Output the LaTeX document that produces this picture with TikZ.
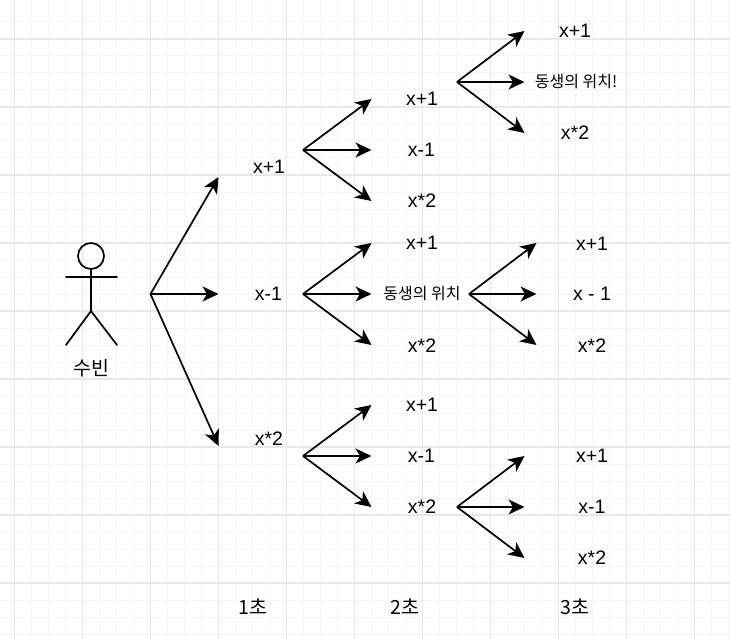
\documentclass[tikz,border=0pt]{standalone}
\usepackage{fontspec}
\setmainfont{Liberation Sans}
\newfontfamily\krfont{Noto Sans CJK KR}
\usetikzlibrary{arrows.meta}
\tikzset{
  lab/.style={inner sep=0pt,font=\fontsize{19.5}{21}\selectfont},
  krsmall/.style={inner sep=0pt,font=\krfont\fontsize{16}{18}\selectfont},
  krlab/.style={inner sep=0pt,font=\krfont\fontsize{19.5}{21}\selectfont},
  arr/.style={line width=1.7pt,-{Stealth[length=16pt,width=15pt,inset=4.5pt]}},
  actorline/.style={line width=1.7pt,line cap=round}
}
\begin{document}
\begin{tikzpicture}[x=1pt,y=-1pt]
\useasboundingbox (0,0) rectangle (730,639);
\fill[white] (0,0) rectangle (730,639);
\foreach \k in {-1,...,42}{
  \draw[line width=1pt,black!3.5] ({14.5+17*\k},0) -- ({14.5+17*\k},639);
  \draw[line width=1pt,black!3.5] (0,{39+17*\k}) -- (730,{39+17*\k});
}
\foreach \k in {0,...,10}{
  \draw[line width=1.2pt,black!9] ({14.5+68*\k},0) -- ({14.5+68*\k},639);
}
\foreach \k in {0,...,8}{
  \draw[line width=1.2pt,black!9] (0,{39+68*\k}) -- (730,{39+68*\k});
}
% actor
\node[draw,circle,line width=1.7pt,minimum size=26pt,inner sep=0pt] (head) at (91,256) {};
\coordinate (hip) at (91,311);
\coordinate (armL) at (66,277);
\coordinate (armR) at (117,277);
\coordinate (footL) at (66,345);
\coordinate (footR) at (117,345);
\draw[actorline] (head.south) -- (hip);
\draw[actorline] (armL) -- (armR);
\draw[actorline] (footL) -- (hip) -- (footR);
\node[krlab] (subin) at (91,368) {수빈};
% junctions
\coordinate (j0) at (150.5,294);
\coordinate (j1) at (303,150);
\coordinate (j2) at (303,294);
\coordinate (j3) at (303,456);
\coordinate (j4) at (457,82);
\coordinate (j5) at (469,294);
\coordinate (j6) at (457,507);
% arrow ends
\foreach \n/\x/\y in {a1/218.5/177,a2/218.5/294,a3/218.5/446,
  b1/371.5/99,b2/371.5/150,b3/371.5/201,
  c1/371.5/243,c2/371.5/294,c3/371.5/345,
  d1/371.5/405,d2/371.5/456,d3/371.5/507,
  e1/524.5/31,e2/524.5/82,e3/524.5/133,
  f1/536.5/243,f2/536.5/294,f3/536.5/345,
  g1/524.5/456,g2/524.5/507,g3/524.5/558}{
  \coordinate (\n) at (\x,\y);
}
\foreach \s/\t in {j0/a1,j0/a2,j0/a3,j1/b1,j1/b2,j1/b3,j2/c1,j2/c2,j2/c3,j3/d1,j3/d2,j3/d3,j4/e1,j4/e2,j4/e3,j5/f1,j5/f2,j5/f3,j6/g1,j6/g2,j6/g3}{
  \draw[arr] (\s) -- (\t);
}
% labels
\node[lab] (t1) at (269,166.5) {x+1};
\node[lab] (t2) at (268.5,293.5) {x-1};
\node[lab] (t3) at (269,438.5) {x*2};
\node[lab] (t4) at (422,98.5) {x+1};
\node[lab] (t5) at (421.5,149.5) {x-1};
\node[lab] (t6) at (422,200.5) {x*2};
\node[lab] (t7) at (422,243) {x+1};
\node[krsmall] (t8) at (422,294) {동생의 위치};
\node[lab] (t9) at (422,345.5) {x*2};
\node[lab] (t10) at (422,404.5) {x+1};
\node[lab] (t11) at (421.5,455.5) {x-1};
\node[lab] (t12) at (422,506.5) {x*2};
\node[lab] (t13) at (575,30.5) {x+1};
\node[krsmall] (t14) at (576,82) {동생의 위치!};
\node[lab] (t15) at (575,132.5) {x*2};
\node[lab] (t16) at (592,243.5) {x+1};
\node[lab] (t17) at (592,293.5) {x - 1};
\node[lab] (t18) at (592,345.5) {x*2};
\node[lab] (t19) at (592,455.5) {x+1};
\node[lab] (t20) at (592,506.5) {x-1};
\node[lab] (t21) at (592,557.5) {x*2};
\node[krlab] (s1) at (253,607) {1초};
\node[krlab] (s2) at (405,607) {2초};
\node[krlab] (s3) at (575,607) {3초};
\end{tikzpicture}
\end{document}
